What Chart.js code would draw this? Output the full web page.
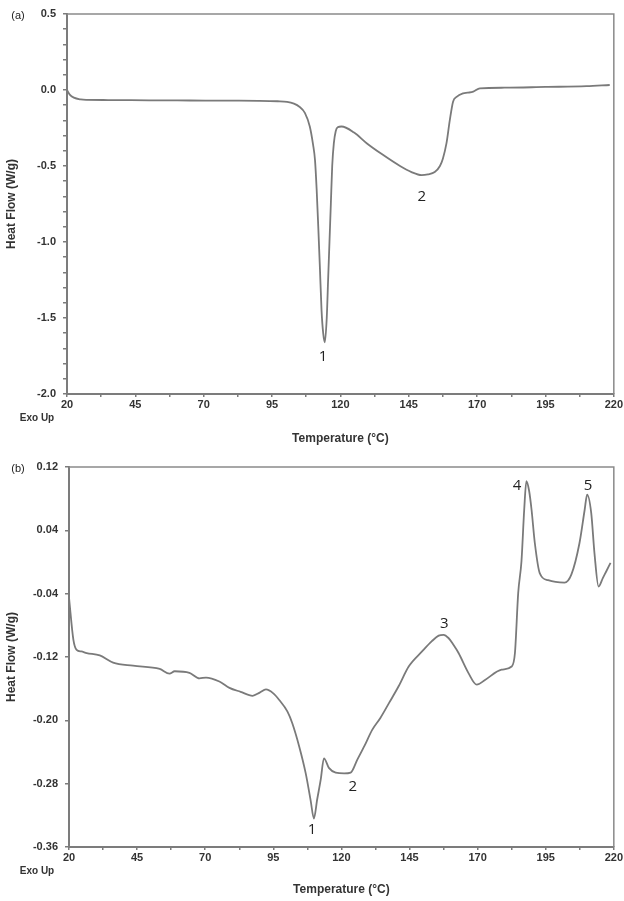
<!DOCTYPE html>
<html>
<head>
<meta charset="utf-8">
<script src="https://cdn.jsdelivr.net/npm/chart.js@4.4.1/dist/chart.umd.min.js"></script>
<style>
    body { margin: 0; background: #fff; }
    #wrapA { position: absolute; left: 0; top: 0; width: 624px; height: 450px; }
    #wrapB { position: absolute; left: 0; top: 450px; width: 624px; height: 451px; }
</style>
</head>
<body>
<div id="wrapA"><canvas id="chartA"></canvas></div>
<div id="wrapB"><canvas id="chartB"></canvas></div>
<script>
// eixo x comum (Temperatura)
const xMajor = [20, 45, 70, 95, 120, 145, 170, 195, 220];

// (a) curva DSC
const tempA = [20, 21, 22.5, 25, 27, 35, 50, 65, 80, 90, 97, 100.5, 103, 105, 107, 108.8, 110, 110.7, 111.3, 111.9,
    112.5, 113.1, 113.7, 114.3, 115, 115.5, 116, 116.5, 117, 117.6, 118.3, 119, 120.4, 125, 129.6, 135, 141.8, 146,
    149.7, 152, 154.5, 156.4, 157.5, 158.8, 160, 161.2, 162.5, 164.9, 166.5, 168.6, 171, 180, 195, 210, 218.5];
const flowA = [0.0, -0.03, -0.05, -0.062, -0.065, -0.066, -0.068, -0.069, -0.07, -0.071, -0.074, -0.078, -0.09, -0.11,
    -0.15, -0.24, -0.36, -0.46, -0.65, -0.90, -1.17, -1.45, -1.6, -1.66, -1.5, -1.25, -1.0, -0.75, -0.5, -0.35, -0.27,
    -0.245, -0.24, -0.28, -0.35, -0.42, -0.50, -0.54, -0.56, -0.555, -0.54, -0.50, -0.45, -0.35, -0.2, -0.077, -0.045,
    -0.022, -0.018, -0.011, 0.011, 0.015, 0.02, 0.025, 0.033];
const yMajorA = [0.5, 0.0, -0.5, -1.0, -1.5, -2.0];
const peakTextA = ['1', '2'];
const peakTA = [113.6, 149.8];
const peakYA = [-1.757, -0.70];

// (b) curva DSC
const tempB = [20, 21.6, 22.8, 24.5, 26.5, 31.3, 36.2, 43.5, 53.3, 56.9, 58.8, 64.2, 67.9, 70.3, 75.2, 78.9, 83, 87.4,
    90, 92.3, 95, 97.1, 100.2, 102, 104.5, 106.9, 108.7, 109.9, 111.1, 112.4, 113.6, 115.4, 117.9, 121, 123.4, 125.8,
    128.5, 131.3, 134.3, 137.5, 141, 144.7, 149.6, 153.2, 155.7, 157.5, 159.3, 161, 163, 166.6, 169.7, 172.7, 178.8,
    182.5, 183.7, 184.9, 186.1, 187.1, 187.9, 188.9, 189.8, 191, 192.8, 195.9, 201.9, 204.4, 207.4, 209.3, 210.2,
    211.7, 212.9, 214.4, 216, 217.2, 218.8];
const flowB = [-0.045, -0.098, -0.111, -0.113, -0.115, -0.118, -0.127, -0.131, -0.135, -0.141, -0.138, -0.140, -0.147,
    -0.146, -0.151, -0.159, -0.164, -0.169, -0.165, -0.161, -0.166, -0.174, -0.189, -0.204, -0.233, -0.267, -0.301,
    -0.324, -0.300, -0.275, -0.248, -0.260, -0.266, -0.267, -0.266, -0.250, -0.232, -0.212, -0.197, -0.178, -0.157,
    -0.132, -0.113, -0.100, -0.093, -0.092, -0.096, -0.104, -0.115, -0.140, -0.155, -0.149, -0.136, -0.132, -0.115,
    -0.039, 0.001, 0.066, 0.102, 0.09, 0.066, 0.024, -0.014, -0.023, -0.026, -0.016, 0.024, 0.066, 0.085, 0.062,
    0.011, -0.031, -0.020, -0.012, -0.001];
const yMajorB = [0.12, 0.04, -0.04, -0.12, -0.20, -0.28, -0.36];
const peakTextB = ['1', '2', '3', '4', '5'];
const peakTB = [109.2, 124.2, 157.8, 184.5, 210.5];
const peakYB = [-0.338, -0.284, -0.078, 0.096, 0.096];

const lineColor = '#7a7a7a';
const axisColor = '#7c7c7c';
const tickFont = { family: 'Liberation Sans', size: 11, weight: 'bold' };

// insere ticks menores entre os maiores
function withMinor(majors, parts) {
    const out = [];
    for (let i = 0; i < majors.length - 1; i++) {
        for (let k = 0; k < parts; k++) {
            out.push(majors[i] + (majors[i + 1] - majors[i]) * k / parts);
        }
    }
    out.push(majors[majors.length - 1]);
    return out;
}

function isMajor(majors, v) {
    return majors.some(m => Math.abs(m - v) < 1e-9);
}

function makeChart(id, opts) {
    const ctx = document.getElementById(id).getContext('2d');
    const xTicks = withMinor(xMajor, 2);
    const yTicks = withMinor(opts.yMajor, opts.yParts);

    const annot = {
        id: 'annot_' + id,
        afterDraw(chart) {
            const c = chart.ctx;
            const a = chart.chartArea;
            const xs = chart.scales.x, ys = chart.scales.y;
            c.save();
            // moldura superior e direita
            c.strokeStyle = '#8a8a8a';
            c.lineWidth = 1.5;
            c.beginPath();
            c.moveTo(a.left, a.top);
            c.lineTo(a.right, a.top);
            c.lineTo(a.right, a.bottom);
            c.stroke();

            // numeros dos picos
            c.fillStyle = '#222';
            c.font = '15px "Open Sans"';
            c.textAlign = 'center';
            c.textBaseline = 'middle';
            for (let i = 0; i < opts.peakText.length; i++) {
                c.fillText(opts.peakText[i], xs.getPixelForValue(opts.peakT[i]), ys.getPixelForValue(opts.peakY[i]));
            }

            // (a)/(b) e Exo Up
            c.font = '11px "Liberation Sans"';
            c.fillText(opts.panel, 18, a.top + 2);
            c.fillStyle = '#333';
            c.font = 'bold 10px "Liberation Sans"';
            c.fillText('Exo Up', 37, a.bottom + 24);
            c.restore();
        }
    };

    return new Chart(ctx, {
        type: 'line',
        data: {
            datasets: [{
                data: opts.temp.map((t, i) => ({ x: t, y: opts.flow[i] })),
                borderColor: lineColor,
                borderWidth: 1.8,
                pointRadius: 0,
                fill: false,
                cubicInterpolationMode: 'monotone'
            }]
        },
        options: {
            responsive: true,
            maintainAspectRatio: false,
            animation: false,
            layout: { padding: { top: opts.padTop, right: opts.padRight, left: 0, bottom: 0 } },
            plugins: { legend: { display: false }, tooltip: { enabled: false } },
            scales: {
                x: {
                    type: 'linear',
                    min: 20,
                    max: 220,
                    afterBuildTicks: s => { s.ticks = xTicks.map(v => ({ value: v })); },
                    afterFit: s => { s.height = opts.xHeight; },
                    ticks: {
                        autoSkip: false,
                        maxRotation: 0,
                        padding: 1,
                        color: '#333',
                        font: tickFont,
                        callback: v => isMajor(xMajor, v) ? String(v) : ''
                    },
                    grid: { drawOnChartArea: false, drawTicks: true, tickLength: 3, color: axisColor, lineWidth: 1.5 },
                    border: { color: axisColor, width: 2 },
                    title: {
                        display: true,
                        text: 'Temperature (°C)',
                        color: '#333',
                        font: { family: 'Liberation Sans', size: 12, weight: 'bold' },
                        padding: { top: 15 }
                    }
                },
                y: {
                    min: opts.yMin,
                    max: opts.yMax,
                    afterBuildTicks: s => { s.ticks = yTicks.map(v => ({ value: v })); },
                    afterFit: s => { s.width = opts.yWidth; },
                    ticks: {
                        autoSkip: false,
                        padding: 7,
                        color: '#333',
                        font: tickFont,
                        callback: v => isMajor(opts.yMajor, v) ? v.toFixed(opts.dec) : ''
                    },
                    grid: { drawOnChartArea: false, drawTicks: true, tickLength: 4, color: axisColor, lineWidth: 1.5 },
                    border: { color: axisColor, width: 2 },
                    title: {
                        display: true,
                        text: 'Heat Flow (W/g)',
                        color: '#333',
                        font: { family: 'Liberation Sans', size: 12, weight: 'bold' },
                        padding: { top: 4, bottom: 0 }
                    }
                }
            }
        },
        plugins: [annot]
    });
}

makeChart('chartA', {
    temp: tempA, flow: flowA, yMajor: yMajorA, yParts: 5, yMin: -2.0, yMax: 0.5, dec: 1,
    peakText: peakTextA, peakT: peakTA, peakY: peakYA, panel: '(a)',
    padTop: 14, padRight: 10, xHeight: 56, yWidth: 67
});

makeChart('chartB', {
    temp: tempB, flow: flowB, yMajor: yMajorB, yParts: 1, yMin: -0.36, yMax: 0.12, dec: 2,
    peakText: peakTextB, peakT: peakTB, peakY: peakYB, panel: '(b)',
    padTop: 17, padRight: 8, xHeight: 54, yWidth: 69
});
</script>
</body>
</html>
